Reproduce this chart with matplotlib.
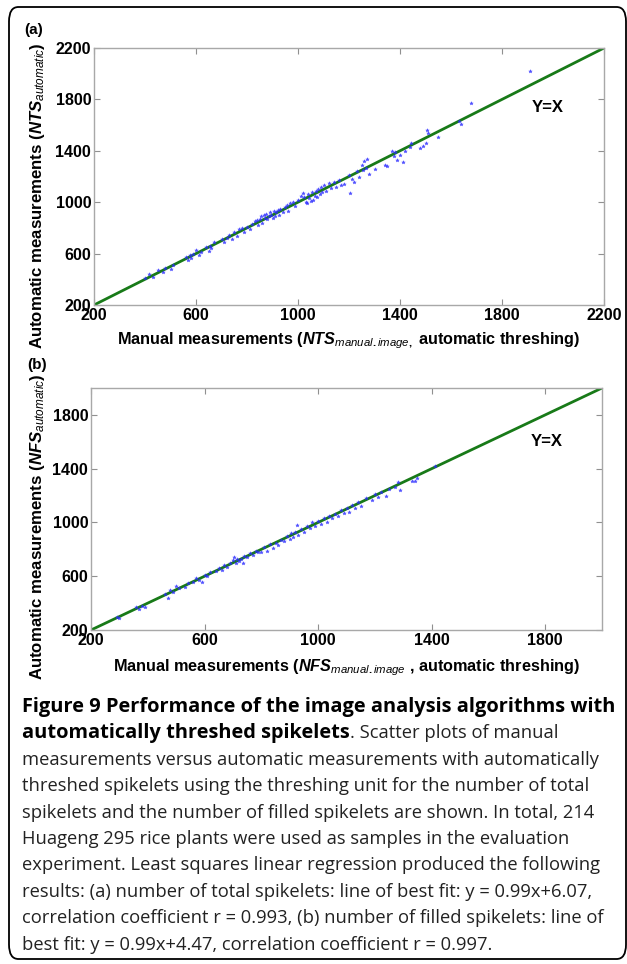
import matplotlib
matplotlib.use('Agg')
import matplotlib.pyplot as plt
from matplotlib.patches import FancyBboxPatch

plt.rcParams['font.family'] = ['Liberation Sans', 'DejaVu Sans']
plt.rcParams['mathtext.fontset'] = 'custom'
plt.rcParams['mathtext.rm'] = 'Liberation Sans:bold'
plt.rcParams['mathtext.it'] = 'Liberation Sans:italic'
plt.rcParams['mathtext.bf'] = 'Liberation Sans:bold'
plt.rcParams['mathtext.bfit'] = 'Liberation Sans:bold:italic'

# (a) número total de espiguillas: manual vs automático
nts_manual = [400, 415, 430, 450, 470, 480, 500, 510, 560, 570, 575, 580, 590, 600, 610, 620,
              640, 650, 655, 660, 670, 700, 710, 720, 730, 740, 750, 760, 770, 780, 790, 800,
              810, 820, 830, 840, 845, 850, 855, 860, 865, 870, 875, 880, 885, 890, 895, 900,
              905, 910, 915, 920, 925, 930, 940, 950, 955, 960, 970, 980, 990, 1000, 1010, 1020,
              1025, 1030, 1035, 1040, 1045, 1050, 1055, 1060, 1065, 1070, 1075, 1080, 1085, 1090,
              1095, 1100, 1110, 1120, 1130, 1140, 1150, 1160, 1170, 1180, 1200, 1205, 1210, 1220,
              1230, 1240, 1250, 1255, 1260, 1265, 1270, 1280, 1300, 1340, 1350, 1370, 1375, 1380,
              1390, 1400, 1410, 1420, 1440, 1445, 1480, 1490, 1500, 1505, 1510, 1550, 1630, 1640,
              1680, 1910]
nts_auto = [410, 440, 420, 470, 455, 490, 480, 510, 570, 550, 590, 565, 600, 630, 590, 610,
            650, 620, 660, 640, 690, 710, 690, 720, 745, 710, 770, 740, 790, 800, 770, 810,
            790, 830, 850, 860, 820, 870, 890, 840, 900, 880, 910, 870, 890, 920, 900, 880,
            930, 890, 920, 940, 900, 950, 920, 960, 980, 930, 990, 1000, 970, 1020, 1050, 1070,
            1040, 1000, 990, 1060, 1030, 1010, 1080, 1020, 1050, 1090, 1040, 1100, 1060, 1120,
            1080, 1130, 1090, 1150, 1110, 1160, 1120, 1170, 1130, 1140, 1210, 1070, 1180, 1160,
            1240, 1200, 1290, 1250, 1320, 1270, 1340, 1220, 1260, 1290, 1280, 1400, 1360, 1390,
            1330, 1370, 1310, 1400, 1430, 1460, 1420, 1440, 1460, 1560, 1540, 1510, 1630, 1610,
            1770, 2020]

# (b) número de espiguillas llenas
nfs_manual = [290, 300, 360, 370, 380, 390, 460, 470, 480, 490, 500, 510, 530, 540, 560, 570,
              580, 590, 600, 610, 620, 640, 650, 660, 670, 680, 690, 700, 705, 710, 715, 720,
              730, 735, 740, 750, 760, 770, 780, 790, 800, 810, 820, 830, 840, 850, 860, 870,
              880, 890, 900, 905, 910, 920, 925, 930, 940, 950, 960, 970, 980, 990, 1000, 1010,
              1020, 1030, 1040, 1050, 1060, 1070, 1080, 1090, 1100, 1110, 1120, 1130, 1140, 1150,
              1170, 1190, 1200, 1210, 1220, 1240, 1250, 1270, 1280, 1290, 1330, 1340, 1350, 1410]
nfs_auto = [300, 290, 370, 355, 380, 370, 470, 440, 500, 480, 530, 510, 520, 550, 560, 585,
            570, 560, 610, 600, 630, 640, 660, 650, 680, 670, 700, 720, 740, 700, 730, 710,
            730, 700, 750, 740, 770, 760, 790, 780, 780, 820, 790, 840, 810, 850, 830, 870,
            860, 900, 880, 920, 890, 930, 980, 910, 950, 930, 970, 960, 1000, 970, 1010, 990,
            1030, 1000, 1050, 1030, 1060, 1050, 1090, 1070, 1110, 1080, 1130, 1110, 1150, 1120,
            1180, 1170, 1210, 1190, 1230, 1200, 1250, 1260, 1300, 1240, 1310, 1310, 1330, 1420]

ticks_a = [200, 600, 1000, 1400, 1800, 2200]
ticks_b = [200, 600, 1000, 1400, 1800]

fig = plt.figure(figsize=(6.27, 9.64), dpi=100)
W, H = 627.0, 964.0


def px(x, y):
    return x / W, 1 - y / H


def panel(rect, xm, ya, lim, ticks, ylab, xlab, ylab_xy, xlab_y, yx_pos):
    ax = fig.add_axes(rect)
    ax.axline((0, 0), slope=1, color='#187a18', lw=2, zorder=2)
    ax.scatter(xm, ya, marker='*', s=7, color='#2a2aff', linewidths=0.3, alpha=0.8, zorder=3)
    ax.set_xlim(lim)
    ax.set_ylim(lim)
    ax.set_xticks(ticks)
    ax.set_yticks(ticks)
    ax.tick_params(direction='in', top=True, right=True, length=4, color='#909090',
                   labelsize=11.5, pad=2)
    for lab in ax.get_xticklabels() + ax.get_yticklabels():
        lab.set_fontweight('bold')
    for s in ax.spines.values():
        s.set_color('#a8a8a8')
        s.set_linewidth(1)
    ax.set_ylabel(ylab, fontsize=12.1, fontweight='bold')
    ax.set_xlabel(xlab, fontsize=11.7, fontweight='bold')
    ax.yaxis.set_label_coords(*ylab_xy)
    ax.xaxis.set_label_coords(0.5, xlab_y)
    ax.text(yx_pos[0], yx_pos[1], 'Y=X', fontsize=12, fontweight='bold', ha='center', va='center')
    return ax


x0, y0 = px(94, 305)
ax1 = panel([x0, y0, 510 / W, 257 / H], nts_manual, nts_auto, (200, 2200), ticks_a,
            r'Automatic measurements ($\mathbfit{NTS}_{\mathit{automatic}}$)',
            r'Manual measurements ($\mathbfit{NTS}_{\mathit{manual.image,}}$ automatic threshing)',
            (-0.093, 0.424), -0.097, (1980, 1740))

x0, y0 = px(91, 630)
ax2 = panel([x0, y0, 511 / W, 242 / H], nfs_manual, nfs_auto, (200, 2000), ticks_b,
            r'Automatic measurements ($\mathbfit{NFS}_{\mathit{automatic}}$)',
            r'Manual measurements ($\mathbfit{NFS}_{\mathit{manual.image}}$ , automatic threshing)',
            (-0.087, 0.426), -0.112, (1805, 1600))

fig.text(*px(24, 30), '(a)', fontsize=11, fontweight='bold', va='center')
fig.text(*px(27, 365), '(b)', fontsize=11, fontweight='bold', va='center')

# marco redondeado
box = FancyBboxPatch(px(9, 959), (626 - 9) / W, (959 - 7) / H,
                     boxstyle='round,pad=0,rounding_size=0.015', transform=fig.transFigure,
                     fill=False, ec='black', lw=1.3)
fig.patches.append(box)

# pie de figura
cap_font = ['Open Sans', 'DejaVu Sans']
cap_size = 13.2
bold_size = 14.4
lines = [
    "measurements versus automatic measurements with automatically",
    "threshed spikelets using the threshing unit for the number of total",
    "spikelets and the number of filled spikelets are shown. In total, 214",
    "Huageng 295 rice plants were used as samples in the evaluation",
    "experiment. Least squares linear regression produced the following",
    "results: (a) number of total spikelets: line of best fit: y = 0.99x+6.07,",
    "correlation coefficient r = 0.993, (b) number of filled spikelets: line of",
    "best fit: y = 0.99x+4.47, correlation coefficient r = 0.997.",
]
y_first = 707
step = 26.4
fig.text(*px(22, y_first), 'Figure 9 Performance of the image analysis algorithms with',
         family=cap_font, fontsize=bold_size, fontweight='bold', va='center')
t = fig.text(*px(22, y_first + step), 'automatically threshed spikelets',
             family=cap_font, fontsize=bold_size, fontweight='bold', va='center')
renderer = fig.canvas.get_renderer()
bb = t.get_window_extent(renderer)
fig.text(bb.x1 / W, 1 - (y_first + step) / H, '. Scatter plots of manual',
         family=cap_font, fontsize=cap_size, va='center', color='#222222')
for i, ln in enumerate(lines):
    fig.text(*px(22, y_first + step * (i + 2)), ln, family=cap_font, fontsize=cap_size,
             va='center', color='#222222')

fig.savefig('out.png', dpi=100)
